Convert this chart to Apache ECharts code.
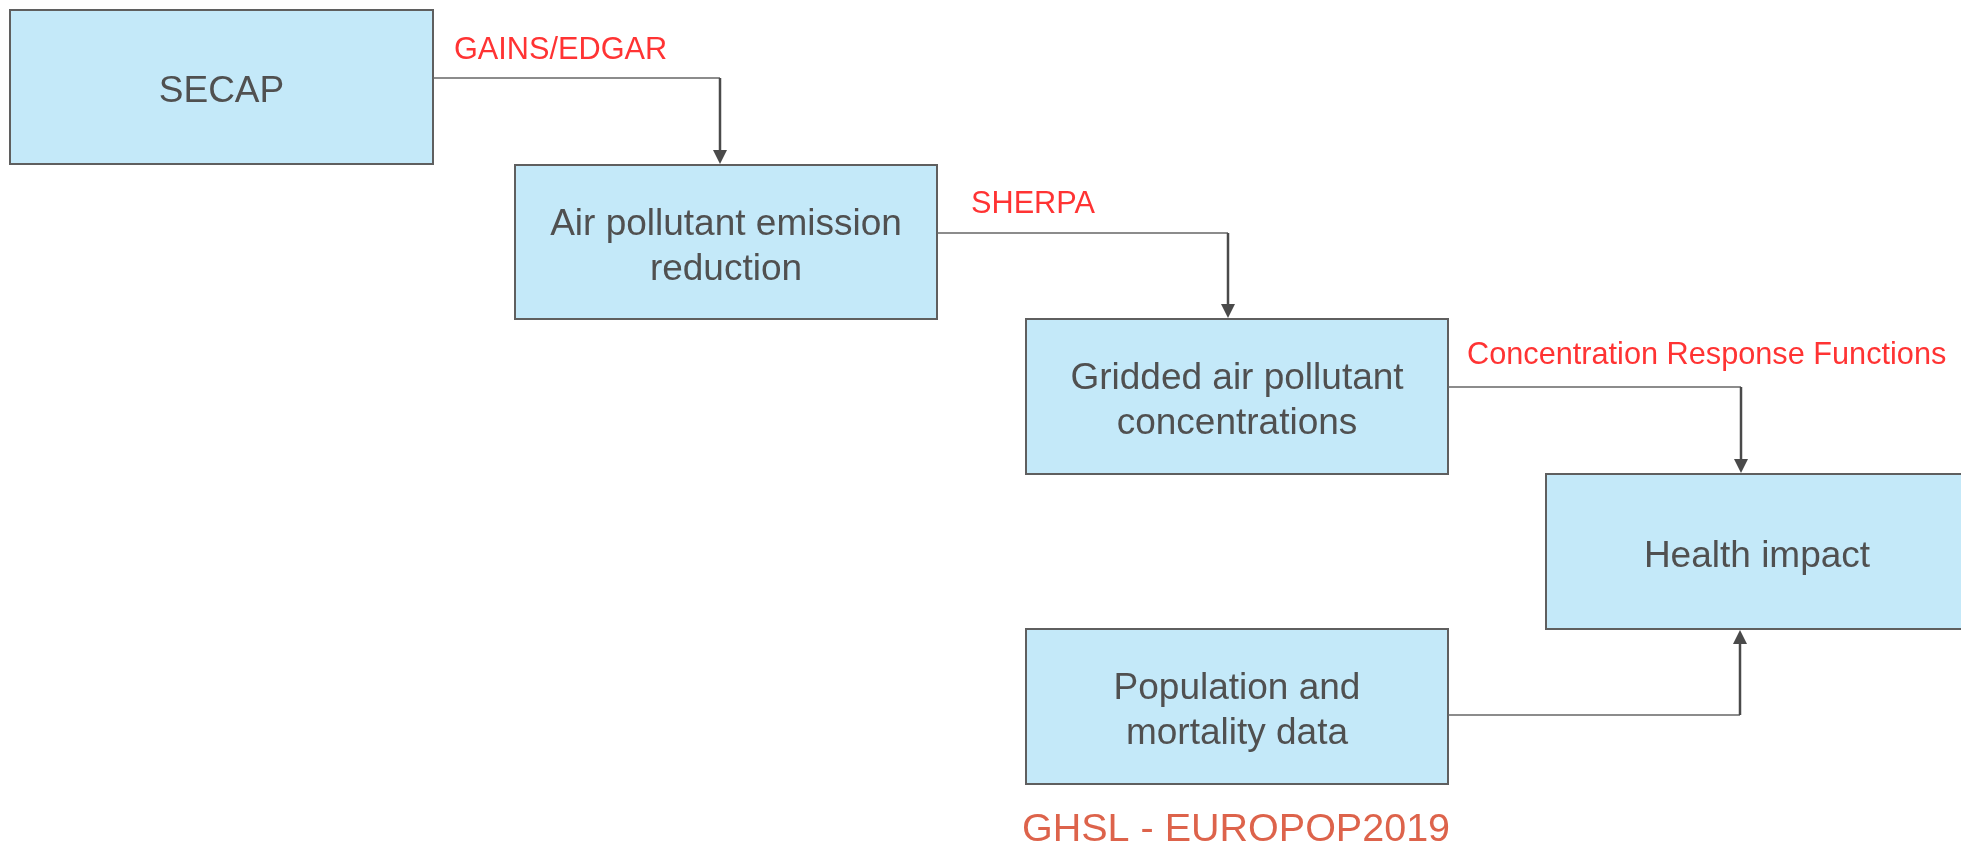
<!DOCTYPE html>
<html>
<head>
<meta charset="utf-8">
<style>
  html, body { margin: 0; padding: 0; background: #fff; }
  #main { width: 1961px; height: 847px; }
</style>
<script src="https://cdn.jsdelivr.net/npm/echarts@6/dist/echarts.min.js"></script>
</head>
<body>
<div id="main"></div>
<script>
// boxes of the flow, in page pixels (x0, y0, x1, y1)
const boxNames = [
  'SECAP',
  'Air pollutant emission\nreduction',
  'Gridded air pollutant\nconcentrations',
  'Health impact',
  'Population and\nmortality data',
]
const boxX0 = [10, 515, 1026, 1546, 1026]
const boxY0 = [10, 165, 319, 474, 629]
const boxX1 = [433, 937, 1448, 1968, 1448]
const boxY1 = [164, 319, 474, 629, 784]

// elbow connectors: start on the box side, corner, arrow tip
const linkPaths = [
  [[433, 78], [720, 78], [720, 164]],
  [[937, 233], [1228, 233], [1228, 318]],
  [[1448, 387], [1741, 387], [1741, 473]],
  [[1448, 715], [1740, 715], [1740, 630]],
]

// method labels next to the connectors
const labelNames = ['GAINS/EDGAR', 'SHERPA', 'Concentration Response Functions']
const labelPos = [[454, 51], [971, 205], [1467, 356]]

const sourceName = 'GHSL - EUROPOP2019'
const sourcePos = [1022, 830]

const FONT = '"Liberation Sans", Arial, sans-serif'

const chart = echarts.init(document.getElementById('main'), null, { renderer: 'canvas' })

const boxData = boxNames.map((n, i) => [boxX0[i], boxY0[i], boxX1[i], boxY1[i], n])

function renderBox(params, api) {
  const p0 = api.coord([api.value(0), api.value(1)])
  const p1 = api.coord([api.value(2), api.value(3)])
  return {
    type: 'rect',
    shape: { x: p0[0], y: p0[1], width: p1[0] - p0[0], height: p1[1] - p0[1] },
    style: { fill: '#c4e9f9', stroke: '#5f5f5f', lineWidth: 2 },
    textContent: {
      style: {
        text: boxNames[params.dataIndex],
        fill: '#505050',
        fontSize: 37,
        lineHeight: 45,
        fontFamily: FONT,
        align: 'center',
        verticalAlign: 'middle',
      }
    },
    textConfig: { position: 'inside', offset: [0, 5] },
  }
}

function renderLink(params, api) {
  const pts = linkPaths[params.dataIndex].map(p => api.coord(p))
  const a = pts[0], b = pts[1], c = pts[2]
  const dir = c[1] > b[1] ? 1 : -1
  const head = 14, half = 7
  return {
    type: 'group',
    children: [
      { type: 'line', shape: { x1: a[0], y1: a[1], x2: b[0], y2: b[1] },
        style: { stroke: '#666666', lineWidth: 1.5 } },
      { type: 'line', shape: { x1: b[0], y1: b[1], x2: c[0], y2: c[1] - dir * head },
        style: { stroke: '#4a4a4a', lineWidth: 2.5 } },
      { type: 'polygon',
        shape: { points: [[c[0], c[1]], [c[0] - half, c[1] - dir * head], [c[0] + half, c[1] - dir * head]] },
        style: { fill: '#4a4a4a' } },
    ]
  }
}

chart.setOption({
  animation: false,
  backgroundColor: '#ffffff',
  grid: { left: 0, right: 0, top: 0, bottom: 0 },
  xAxis: { type: 'value', min: 0, max: 1961, show: false },
  yAxis: { type: 'value', min: 0, max: 847, inverse: true, show: false },
  series: [
    {
      type: 'custom',
      clip: false,
      data: boxData,
      renderItem: renderBox,
    },
    {
      type: 'custom',
      clip: false,
      data: linkPaths.map((p, i) => [p[0][0], p[0][1], i]),
      renderItem: renderLink,
      z: 3,
    },
    {
      type: 'scatter',
      symbolSize: 0,
      data: labelNames.map((n, i) => ({ name: n, value: labelPos[i] })),
      label: {
        show: true, position: 'right', distance: 0,
        formatter: '{b}', color: '#ff0000', fontSize: 30.7, fontFamily: FONT,
      },
    },
    {
      type: 'scatter',
      symbolSize: 0,
      data: [{ name: sourceName, value: sourcePos }],
      label: {
        show: true, position: 'right', distance: 0,
        formatter: '{b}', color: '#d43c1e', fontSize: 39.5, fontFamily: FONT,
      },
    },
  ],
})
</script>
</body>
</html>
